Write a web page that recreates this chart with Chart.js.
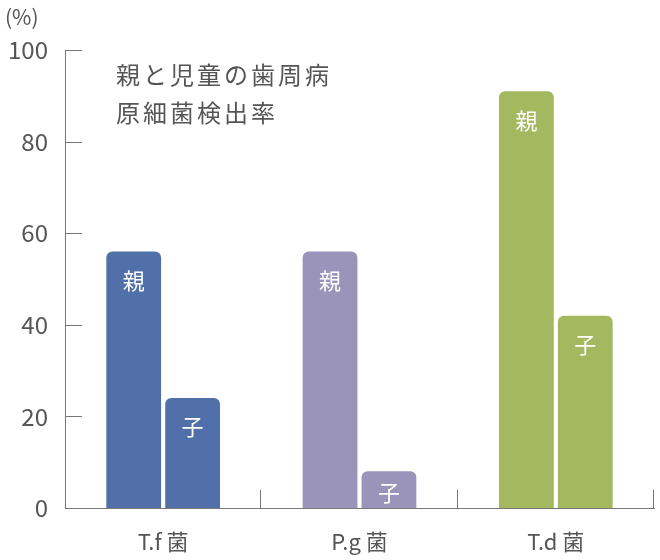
<!DOCTYPE html>
<html>
<head>
<meta charset="utf-8">
<script src="https://cdn.jsdelivr.net/npm/chart.js@4"></script>
<style>
  html, body { margin: 0; padding: 0; background: #fff; }
  #wrap { width: 660px; height: 560px; position: relative; }
</style>
</head>
<body>
<div id="wrap"><canvas id="chart"></canvas></div>
<script>
  const categories = ['T.f 菌', 'P.g 菌', 'T.d 菌'];
  const parentValues = [56, 56, 91];
  const childValues = [24, 8, 42];
  const seriesNames = ['親', '子'];
  const yTicks = [0, 20, 40, 60, 80, 100];
  const barColors = ['#5170a9', '#9a94ba', '#a4b860'];
  const titleLines = ['親と児童の歯周病', '原細菌検出率'];

  const FONT = '"Noto Sans CJK JP", "Noto Sans", sans-serif';
  const TEXT = '#555';
  const AXIS = '#777';

  // labels inside the bars, short inward ticks, category separators and the title
  const decorations = {
    id: 'decorations',
    afterDatasetsDraw(chart) {
      const ctx = chart.ctx;
      const x = chart.scales.x;
      const y = chart.scales.y;
      const area = chart.chartArea;

      ctx.save();
      ctx.fillStyle = '#fff';
      ctx.font = '22px ' + FONT;
      ctx.textAlign = 'center';
      ctx.textBaseline = 'middle';
      chart.data.datasets.forEach((ds, i) => {
        chart.getDatasetMeta(i).data.forEach(bar => {
          const h = bar.base - bar.y;
          ctx.fillText(ds.label, bar.x, bar.y + Math.min(29, h / 2 + 3));
        });
      });

      ctx.strokeStyle = AXIS;
      ctx.lineWidth = 1;
      yTicks.forEach(v => {
        if (v === 0) return;
        const py = Math.round(y.getPixelForValue(v)) + 0.5;
        ctx.beginPath();
        ctx.moveTo(area.left, py);
        ctx.lineTo(area.left + 17, py);
        ctx.stroke();
      });

      for (let i = 1; i <= categories.length; i++) {
        const px = Math.round(x.getPixelForValue(i - 0.5)) - 0.5;
        ctx.beginPath();
        ctx.moveTo(px, area.bottom);
        ctx.lineTo(px, area.bottom - 18);
        ctx.stroke();
      }

      ctx.fillStyle = TEXT;
      ctx.font = '24px ' + FONT;
      ctx.letterSpacing = '3px';
      ctx.textAlign = 'left';
      ctx.textBaseline = 'middle';
      titleLines.forEach((t, i) => {
        ctx.fillText(t, 116, 75 + i * 38);
      });

      ctx.letterSpacing = '0px';
      ctx.font = '21px ' + FONT;
      ctx.fillText('(%)', 5, 17);
      ctx.restore();
    }
  };

  new Chart(document.getElementById('chart'), {
    type: 'bar',
    data: {
      labels: categories,
      datasets: [
        {
          label: seriesNames[0],
          data: parentValues,
          backgroundColor: barColors,
          borderRadius: { topLeft: 6, topRight: 6 },
          borderSkipped: false,
          barPercentage: 0.93,
          categoryPercentage: 0.6
        },
        {
          label: seriesNames[1],
          data: childValues,
          backgroundColor: barColors,
          borderRadius: { topLeft: 6, topRight: 6 },
          borderSkipped: false,
          barPercentage: 0.93,
          categoryPercentage: 0.6
        }
      ]
    },
    options: {
      responsive: true,
      maintainAspectRatio: false,
      animation: false,
      layout: { padding: { top: 50, right: 6, left: 0, bottom: 0 } },
      plugins: {
        legend: { display: false },
        tooltip: { enabled: false }
      },
      scales: {
        x: {
          grid: { display: false },
          border: { display: true, color: AXIS, width: 1 },
          ticks: {
            color: TEXT,
            font: { family: FONT, size: 22 },
            padding: 12
          },
          afterFit(scale) { scale.height = 52; }
        },
        y: {
          min: 0,
          max: 100,
          afterBuildTicks(scale) { scale.ticks = yTicks.map(v => ({ value: v })); },
          grid: { display: false },
          border: { display: true, color: AXIS, width: 1 },
          ticks: {
            color: TEXT,
            font: { family: FONT, size: 24 },
            padding: 9
          },
          afterFit(scale) { scale.width = 65; }
        }
      }
    },
    plugins: [decorations]
  });
</script>
</body>
</html>
